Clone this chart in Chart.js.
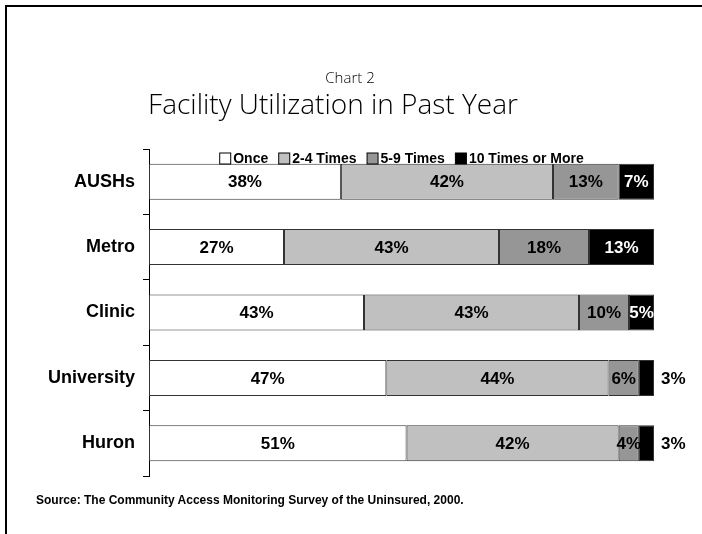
<!DOCTYPE html>
<html><head><meta charset="utf-8">
<script src="https://cdn.jsdelivr.net/npm/chart.js@4"></script>
<style>
html,body{margin:0;padding:0;background:#fff;}
#wrap{position:relative;width:702px;height:534px;overflow:hidden;background:#fff;}
#frame{position:absolute;left:5px;top:5px;width:720px;height:560px;border-left:2px solid #000;border-top:2px solid #000;pointer-events:none;}
.t{position:absolute;white-space:nowrap;color:#000;font-family:"Open Sans",sans-serif;font-weight:300;transform:translateX(-50%);line-height:1;}
#sub{left:350px;top:70px;font-size:15px;}
#title{left:333px;top:89px;font-size:28px;}
#src{position:absolute;left:36px;top:493px;font:bold 12px "Liberation Sans",Arial,sans-serif;color:#000;white-space:nowrap;}
canvas{position:absolute;left:0;top:0;}
</style></head><body>
<div id="wrap">
<canvas id="c" width="702" height="534"></canvas>
<div id="frame"></div>
<div class="t" id="sub">Chart 2</div>
<div class="t" id="title">Facility Utilization in Past Year</div>
<div id="src">Source: The Community Access Monitoring Survey of the Uninsured, 2000.</div>
</div>
<script>
const categories = ['AUSHs', 'Metro', 'Clinic', 'University', 'Huron'];
const seriesNames = ['Once', '2-4 Times', '5-9 Times', '10 Times or More'];
const once = [38, 27, 43, 47, 51];
const times2to4 = [42, 43, 43, 44, 42];
const times5to9 = [13, 18, 10, 6, 4];
const times10plus = [7, 13, 5, 3, 3];
const seriesColors = ['#FFFFFF', '#C0C0C0', '#969696', '#000000'];
const labelColors = ['#000000', '#000000', '#000000', '#FFFFFF'];

const seriesValues = [once, times2to4, times5to9, times10plus];
const totals = categories.map((_, i) => seriesValues.reduce((s, arr) => s + arr[i], 0));

const datasets = seriesValues.map((vals, k) => ({
  label: seriesNames[k],
  data: vals.map((v, i) => v / totals[i] * 100),
  rawValues: vals,
  labelColor: labelColors[k],
  backgroundColor: seriesColors[k],
  borderColor: '#333333',
  borderWidth: 1,
  borderSkipped: false,
  categoryPercentage: 1,
  barPercentage: 0.55
}));

const FONT = '"Liberation Sans", Arial, sans-serif';

const valueLabels = {
  id: 'valueLabels',
  afterDatasetsDraw(chart) {
    const ctx = chart.ctx;
    const last = chart.data.datasets.length - 1;
    ctx.save();
    ctx.font = 'bold 17px ' + FONT;
    ctx.textBaseline = 'middle';
    chart.data.datasets.forEach((ds, di) => {
      const meta = chart.getDatasetMeta(di);
      meta.data.forEach((bar, i) => {
        const p = bar.getProps(['x', 'y', 'base'], true);
        const w = Math.abs(p.x - p.base);
        const txt = ds.rawValues[i] + '%';
        if (di === last && w < 20) {
          ctx.textAlign = 'left';
          ctx.fillStyle = '#000';
          ctx.fillText(txt, Math.max(p.x, p.base) + 7, p.y + 1);
        } else {
          ctx.textAlign = 'center';
          ctx.fillStyle = ds.labelColor;
          ctx.fillText(txt, (p.x + p.base) / 2, p.y + 1);
        }
      });
    });
    ctx.restore();
  }
};

const legendLine = {
  id: 'legendLine',
  afterDraw(chart) {
    const ctx = chart.ctx;
    const area = chart.chartArea;
    const box = 11, gapText = 3, gapItem = 10;
    ctx.save();
    ctx.font = 'bold 14px ' + FONT;
    ctx.textBaseline = 'middle';
    ctx.textAlign = 'left';
    const items = chart.data.datasets.map(ds => ({ text: ds.label, color: ds.backgroundColor, w: ctx.measureText(ds.label).width }));
    const total = items.reduce((s, it) => s + box + gapText + it.w, 0) + gapItem * (items.length - 1);
    let x = (area.left + area.right) / 2 - total / 2;
    const y = area.top + 9;
    items.forEach(it => {
      ctx.fillStyle = it.color;
      ctx.fillRect(x + 0.5, y - box / 2 + 0.5, box, box);
      ctx.strokeStyle = '#000';
      ctx.lineWidth = 1;
      ctx.strokeRect(x + 0.5, y - box / 2 + 0.5, box, box);
      ctx.fillStyle = '#000';
      ctx.fillText(it.text, x + box + gapText, y + 1);
      x += box + gapText + it.w + gapItem;
    });
    ctx.restore();
  }
};

new Chart(document.getElementById('c'), {
  type: 'bar',
  data: { labels: categories, datasets },
  options: {
    indexAxis: 'y',
    responsive: false,
    animation: false,
    devicePixelRatio: 1,
    layout: { padding: { left: 0, right: 48, top: 149, bottom: 58 } },
    scales: {
      x: { stacked: true, min: 0, max: 100, display: false },
      y: {
        stacked: true,
        afterFit(scale) { scale.width = 149; },
        grid: { drawOnChartArea: false, drawTicks: true, tickLength: 6, color: '#000', offset: true },
        border: { display: true, color: '#000', width: 1 },
        ticks: { color: '#000', padding: 8, font: { family: FONT, size: 18, weight: 'bold' } }
      }
    },
    plugins: {
      legend: { display: false },
      tooltip: { enabled: false }
    }
  },
  plugins: [valueLabels, legendLine]
});
</script>
</body></html>
